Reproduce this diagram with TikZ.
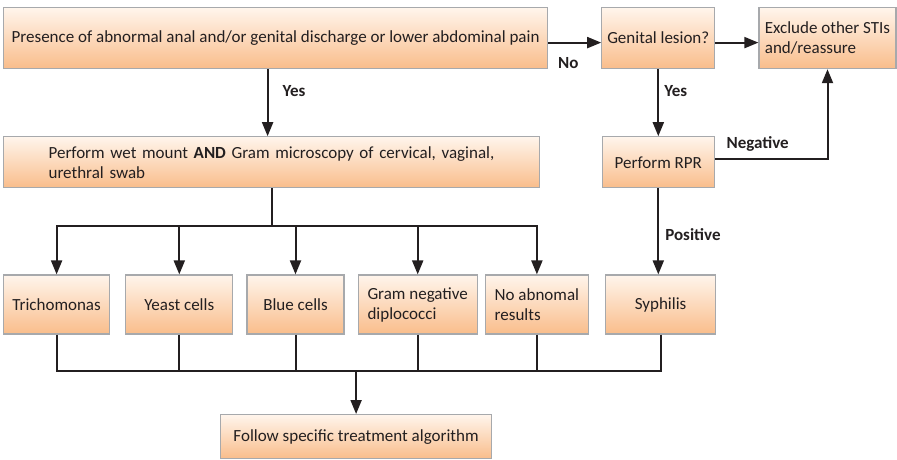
\documentclass[tikz,border=0pt]{standalone}
\usepackage{fontspec}
\setmainfont{Carlito}
\usetikzlibrary{arrows.meta,positioning}
\definecolor{BoxTop}{HTML}{FFF5EC}
\definecolor{BoxBottom}{HTML}{F9BD8B}
\definecolor{BoxEdge}{HTML}{A7A9AC}
\definecolor{InkDark}{HTML}{231F20}

\begin{document}
\begin{tikzpicture}[
x=1pt,y=1pt,
font=\fontsize{17}{20}\selectfont,
box/.style={draw=BoxEdge,line width=1.2pt,top color=BoxTop,bottom color=BoxBottom,text=InkDark,align=center,inner xsep=4pt},
row/.style={box,minimum height=59pt},
arr/.style={-{Triangle[length=14pt,width=11pt]},line width=2pt,draw=InkDark},
wire/.style={line width=2pt,draw=InkDark},
lbl/.style={font=\fontsize{17}{20}\selectfont\bfseries,text=InkDark,inner sep=2pt}
]
\useasboundingbox (0,0) rectangle (897,-460);
% top row
\node[box,anchor=north west,minimum width=544pt,minimum height=61pt] (presence) at (3,-7) {Presence of abnormal anal and/or genital discharge or lower abdominal pain};
\node[box,right=53pt of presence,minimum width=113pt,minimum height=61pt] (lesion) {Genital lesion?};
\node[box,right=43pt of lesion,minimum width=137pt,minimum height=61pt,align=left] (exclude) {Exclude other STIs\\and/reassure};
% second row
\node[box,below=67pt of presence.south west,anchor=north west,text width=446pt,inner xsep=45pt,minimum height=51pt,align=left] (wet) {Perform wet mount \textbf{AND} Gram microscopy of cervical, vaginal,\\urethral swab};
\node[box,below=67pt of lesion,minimum width=112pt,minimum height=51pt] (rpr) {Perform RPR};
% findings
\node[row,below=86pt of wet.south west,anchor=north west,minimum width=106pt] (trich) {Trichomonas};
\node[row,right=15pt of trich,minimum width=107pt] (yeast) {Yeast cells};
\node[row,right=13pt of yeast,minimum width=97pt] (blue) {Blue cells};
\node[row,right=13pt of blue,minimum width=119pt,align=left] (gram) {Gram negative\\diplococci};
\node[row,right=7pt of gram,minimum width=103pt,align=left] (noab) {No abnomal\\results};
\node[row,right=16pt of noab,minimum width=110pt] (syph) {Syphilis};
\node[box,anchor=north west,minimum width=271pt,minimum height=44pt] (treat) at (220,-414) {Follow specific treatment algorithm};
\coordinate[below=38pt of wet.south] (split);
\coordinate[above=43pt of treat.north] (join);
% connectors
\draw[arr] ([yshift=-4.5pt]presence.east) -- node[lbl,pos=0.38,below=12pt] {No} ([yshift=-4.5pt]lesion.west);
\draw[arr] ([yshift=-4.5pt]lesion.east) -- ([yshift=-4.5pt]exclude.west);
\draw[arr] ([xshift=-8pt]presence.south) -- node[lbl,pos=0.33,right=12pt] {Yes} ([xshift=-8pt]presence.south |- wet.north);
\draw[arr] (lesion) -- node[lbl,pos=0.33,right=3pt] {Yes} (rpr);
\draw[arr] ([yshift=3.5pt]rpr.east) -| node[lbl,pos=0.19,above=4pt] {Negative} (exclude.south);
\draw[arr] (rpr.south) -- node[lbl,pos=0.54,right=4pt] {Positive} (rpr.south |- syph.north);
\draw[wire] (wet.south) -- (split);
\foreach \n in {trich,yeast,blue,gram,noab}
  \draw[arr] (split) -| (\n.north);
\foreach \n in {trich,yeast,blue,gram,noab,syph}
  \draw[wire] (\n.south) |- (join);
\draw[arr] (join) -- (treat.north);
\end{tikzpicture}
\end{document}
